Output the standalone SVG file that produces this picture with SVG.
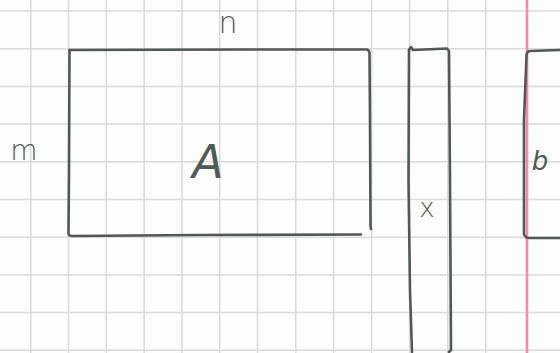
<svg xmlns="http://www.w3.org/2000/svg" width="560" height="353" viewBox="0 0 560 353">
<style>
.grid line{stroke:#dadada;stroke-width:1.5}
.pen{fill:none;stroke:#4f5a55;stroke-width:2.6;stroke-linecap:round;stroke-linejoin:round}
.lbl{font-family:"DejaVu Sans",sans-serif;fill:#505a56;font-weight:200}
</style>
<rect width="560" height="353" fill="#fdfdfd"/>
<g class="grid">
<line x1="30.7" y1="0" x2="30.7" y2="353"/><line x1="68.5" y1="0" x2="68.5" y2="353"/><line x1="106.3" y1="0" x2="106.3" y2="353"/><line x1="144.1" y1="0" x2="144.1" y2="353"/><line x1="181.9" y1="0" x2="181.9" y2="353"/><line x1="219.7" y1="0" x2="219.7" y2="353"/><line x1="257.5" y1="0" x2="257.5" y2="353"/><line x1="295.8" y1="0" x2="295.8" y2="353"/><line x1="333.6" y1="0" x2="333.6" y2="353"/><line x1="371.6" y1="0" x2="371.6" y2="353"/><line x1="409.6" y1="0" x2="409.6" y2="353"/><line x1="447.8" y1="0" x2="447.8" y2="353"/><line x1="485.8" y1="0" x2="485.8" y2="353"/>
<line x1="0" y1="11" x2="560" y2="11"/><line x1="0" y1="48.7" x2="560" y2="48.7"/><line x1="0" y1="86.4" x2="560" y2="86.4"/><line x1="0" y1="124.1" x2="560" y2="124.1"/><line x1="0" y1="161.8" x2="560" y2="161.8"/><line x1="0" y1="199.5" x2="560" y2="199.5"/><line x1="0" y1="237.2" x2="560" y2="237.2"/><line x1="0" y1="274.9" x2="560" y2="274.9"/><line x1="0" y1="312.6" x2="560" y2="312.6"/><line x1="0" y1="350.3" x2="560" y2="350.3"/>
</g>
<line x1="527" y1="0" x2="527" y2="353" stroke="#f28bb0" stroke-width="2.6"/>
<g id="A">
<path class="pen" d="M69.5,50 L250,49.5 L367,49.5 Q369,50 369.5,53 L370,120 L370.5,226 L371,229"/>
<path class="pen" d="M69.5,50 L69,170 L68.5,234 Q69,236 72,236 L200,235 L361,234.5"/>
<text class="lbl" x="208" y="178" font-size="46" text-anchor="middle" font-style="italic">A</text>
</g>
<g id="x">
<path class="pen" d="M409,50 L411,47 L413,50 L447,48.5 L449,51 L450,180 L451,350 L449,352"/>
<path class="pen" d="M409,50 L408.5,180 L410,290 L412,352"/>
<text class="lbl" x="427" y="217" font-size="26" text-anchor="middle">x</text>
</g>
<g id="b">
<path class="pen" d="M560,50 L530,51 Q527,51 526.5,55 L524,120 L524,234 Q525,238 529,238 L560,238"/>
<text class="lbl" x="540" y="170" font-size="26" text-anchor="middle" font-style="italic">b</text>
</g>
<g id="labels">
<text class="lbl" x="228" y="33" font-size="30" text-anchor="middle">n</text>
<text class="lbl" x="24" y="160" font-size="28" text-anchor="middle">m</text>
</g>
</svg>
